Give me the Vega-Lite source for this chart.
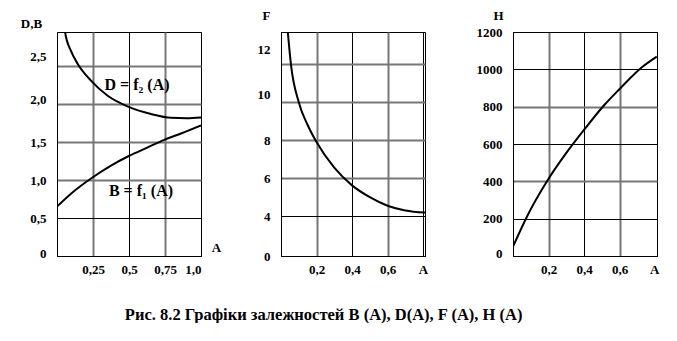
{
  "$schema": "https://vega.github.io/schema/vega-lite/v6.json",
  "autosize": {"type": "pad"},
  "padding": {"left": 19, "top": 8, "right": 0, "bottom": 0},
  "background": "white",
  "datasets": {
    "db": [
      {"s": "D", "A": 0.050, "v": 3.05},
      {"s": "D", "A": 0.056, "v": 2.95},
      {"s": "D", "A": 0.097, "v": 2.70},
      {"s": "D", "A": 0.144, "v": 2.53},
      {"s": "D", "A": 0.236, "v": 2.31},
      {"s": "D", "A": 0.352, "v": 2.11},
      {"s": "D", "A": 0.502, "v": 1.96},
      {"s": "D", "A": 0.653, "v": 1.87},
      {"s": "D", "A": 0.792, "v": 1.82},
      {"s": "D", "A": 0.900, "v": 1.815},
      {"s": "D", "A": 1.000, "v": 1.825},
      {"s": "B", "A": 0.000, "v": 0.65},
      {"s": "B", "A": 0.097, "v": 0.82},
      {"s": "B", "A": 0.236, "v": 1.02},
      {"s": "B", "A": 0.375, "v": 1.19},
      {"s": "B", "A": 0.502, "v": 1.32},
      {"s": "B", "A": 0.630, "v": 1.43},
      {"s": "B", "A": 0.745, "v": 1.53},
      {"s": "B", "A": 0.870, "v": 1.62},
      {"s": "B", "A": 1.000, "v": 1.72}
    ],
    "dblabels": [
      {"label": "D = f₂ (A)", "A": 0.556, "v": 2.25},
      {"label": "B = f₁ (A)", "A": 0.583, "v": 0.86}
    ],
    "f": [
      {"A": 0.034, "F": 14.2},
      {"A": 0.038, "F": 13.75},
      {"A": 0.056, "F": 12.0},
      {"A": 0.100, "F": 10.0},
      {"A": 0.150, "F": 8.8},
      {"A": 0.200, "F": 7.9},
      {"A": 0.300, "F": 6.55},
      {"A": 0.400, "F": 5.62},
      {"A": 0.500, "F": 5.0},
      {"A": 0.600, "F": 4.55},
      {"A": 0.700, "F": 4.3},
      {"A": 0.811, "F": 4.19}
    ],
    "h": [
      {"A": 0.000, "H": 50},
      {"A": 0.081, "H": 216},
      {"A": 0.193, "H": 403},
      {"A": 0.300, "H": 552},
      {"A": 0.403, "H": 680},
      {"A": 0.510, "H": 805},
      {"A": 0.600, "H": 895},
      {"A": 0.725, "H": 1011},
      {"A": 0.809, "H": 1068}
    ]
  },
  "title": {
    "text": "Рис. 8.2 Графіки залежностей B (A), D(A), F (A), H (A)",
    "orient": "bottom",
    "anchor": "middle",
    "offset": 43,
    "dx": -16,
    "font": "Liberation Serif",
    "fontSize": 16.5,
    "fontWeight": "bold",
    "color": "black",
    "baseline": "alphabetic"
  },
  "config": {
    "font": "Liberation Serif",
    "view": {"stroke": "black", "strokeWidth": 1},
    "axis": {
      "ticks": false,
      "domainColor": "black",
      "domainWidth": 1,
      "labelFont": "Liberation Serif",
      "labelFontSize": 13,
      "labelFontWeight": "bold",
      "labelColor": "black",
      "titleFont": "Liberation Serif",
      "titleFontSize": 13,
      "titleFontWeight": "bold",
      "titleColor": "black",
      "gridOpacity": 1
    },
    "axisY": {"labelPadding": 11, "titleAngle": 0, "titleAlign": "center", "titleBaseline": "middle"},
    "axisX": {"labelPadding": 7, "labelAngle": 0, "titleAlign": "center", "titleBaseline": "middle"}
  },
  "bounds": "flush",
  "spacing": 80,
  "hconcat": [
    {
      "width": 144,
      "height": 224,
      "layer": [
        {
          "data": {"name": "db"},
          "mark": {"type": "line", "color": "black", "strokeWidth": 2, "interpolate": "monotone", "clip": true},
          "encoding": {
            "x": {
              "field": "A", "type": "quantitative",
              "scale": {"domain": [0, 1], "nice": false},
              "axis": {
                "values": [0.25, 0.5, 0.75, 1.0],
                "labelExpr": "datum.value == 1 ? '1,0' : replace(format(datum.value, '.2~f'), '.', ',')",
                "title": "A",
                "titleX": 159,
                "titleY": -9,
                "gridColor": {"condition": {"test": "datum.value == 0.5 || datum.value == 1", "value": "black"}, "value": "#777777"},
                "gridWidth": {"condition": {"test": "datum.value == 0.5 || datum.value == 1", "value": 1}, "value": 2}
              }
            },
            "y": {
              "field": "v", "type": "quantitative",
              "scale": {"domain": [0, 2.95], "nice": false, "zero": false},
              "axis": {
                "values": [0, 0.5, 1, 1.5, 2, 2.5],
                "labelExpr": "datum.value == 0 ? '0' : replace(format(datum.value, '.1f'), '.', ',')",
                "labelOffset": {"condition": [{"test": "datum.value == 2.5", "value": -10}, {"test": "datum.value == 2", "value": -5}, {"test": "datum.value == 0", "value": -3}], "value": 0},
                "title": "D,B",
                "titleX": -26,
                "titleY": -9,
                "gridColor": {"condition": {"test": "datum.value == 0.5 || datum.value == 0", "value": "black"}, "value": "#777777"},
                "gridWidth": {"condition": {"test": "datum.value == 0.5 || datum.value == 0", "value": 1}, "value": 2}
              }
            },
            "detail": {"field": "s", "type": "nominal"}
          }
        },
        {
          "data": {"name": "dblabels"},
          "mark": {"type": "text", "font": "Liberation Serif", "fontSize": 16, "fontWeight": "bold", "color": "black", "baseline": "middle", "align": "center"},
          "encoding": {
            "x": {"field": "A", "type": "quantitative"},
            "y": {"field": "v", "type": "quantitative"},
            "text": {"field": "label", "type": "nominal"}
          }
        }
      ]
    },
    {
      "bounds": "flush",
      "spacing": 88,
      "hconcat": [
        {
          "width": 144,
          "height": 224,
          "data": {"name": "f"},
          "mark": {"type": "line", "color": "black", "strokeWidth": 2, "interpolate": "monotone", "clip": true},
          "encoding": {
            "x": {
              "field": "A", "type": "quantitative",
              "scale": {"domain": [0, 0.811], "nice": false},
              "axis": {
                "values": [0.2, 0.4, 0.6, 0.8],
                "labelExpr": "datum.value > 0.7 ? 'A' : replace(format(datum.value, '.1f'), '.', ',')",
                "title": null,
                "gridColor": {"condition": {"test": "datum.value == 0.4 || datum.value == 0.8", "value": "black"}, "value": "#777777"},
                "gridWidth": {"condition": {"test": "datum.value == 0.4 || datum.value == 0.8", "value": 1}, "value": 2}
              }
            },
            "y": {
              "field": "F", "type": "quantitative",
              "scale": {"domain": [1.9, 13.7], "nice": false, "zero": false},
              "axis": {
                "values": [1.9, 4, 6, 8, 10, 12],
                "labelExpr": "datum.value < 3 ? '0' : format(datum.value, 'd')",
                "labelOffset": {"condition": [{"test": "datum.value == 12", "value": -15}, {"test": "datum.value == 10", "value": -8}], "value": 0},
                "title": "F",
                "titleX": -15,
                "titleY": -17,
                "gridColor": {"condition": {"test": "datum.value == 4 || datum.value < 3", "value": "black"}, "value": "#777777"},
                "gridWidth": {"condition": {"test": "datum.value == 4 || datum.value < 3", "value": 1}, "value": 2}
              }
            }
          }
        },
        {
          "width": 144,
          "height": 224,
          "data": {"name": "h"},
          "mark": {"type": "line", "color": "black", "strokeWidth": 2, "interpolate": "monotone", "clip": true},
          "encoding": {
            "x": {
              "field": "A", "type": "quantitative",
              "scale": {"domain": [0, 0.81], "nice": false},
              "axis": {
                "values": [0.2, 0.4, 0.6, 0.81],
                "labelExpr": "datum.value > 0.7 ? 'A' : replace(format(datum.value, '.1f'), '.', ',')",
                "labelOffset": {"condition": {"test": "datum.value > 0.7", "value": 2}, "value": 0},
                "title": null,
                "gridColor": {"condition": {"test": "datum.value == 0.4 || datum.value > 0.7", "value": "black"}, "value": "#777777"},
                "gridWidth": {"condition": {"test": "datum.value == 0.4 || datum.value > 0.7", "value": 1}, "value": 2}
              }
            },
            "y": {
              "field": "H", "type": "quantitative",
              "scale": {"domain": [0, 1200], "nice": false},
              "axis": {
                "values": [0, 200, 400, 600, 800, 1000, 1200],
                "labelExpr": "format(datum.value, 'd')",
                "labelOffset": {"condition": {"test": "datum.value == 0", "value": -3}, "value": 0},
                "title": "H",
                "titleX": -15,
                "titleY": -17,
                "gridColor": {"condition": {"test": "datum.value == 400 || datum.value == 800", "value": "#777777"}, "value": "black"},
                "gridWidth": {"condition": {"test": "datum.value == 400 || datum.value == 800", "value": 2}, "value": 1}
              }
            }
          }
        }
      ]
    }
  ]
}
